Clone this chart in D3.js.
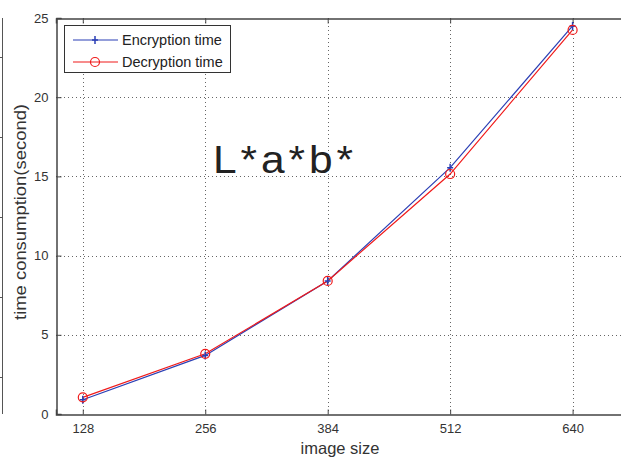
<!DOCTYPE html>
<html>
<head>
<meta charset="utf-8">
<script src="https://cdn.jsdelivr.net/npm/d3@7"></script>
<style>
  html, body { margin: 0; padding: 0; background: #fff; }
  svg { display: block; }
  text { font-family: "Liberation Sans", Arial, sans-serif; }
</style>
</head>
<body>
<svg id="chart" width="621" height="459"></svg>
<script>
const imageSizes = [128, 256, 384, 512, 640];
const encryptionTime = [0.9, 3.7, 8.4, 15.55, 24.5];
const decryptionTime = [1.05, 3.8, 8.4, 15.15, 24.25];
const xTicks = [128, 256, 384, 512, 640];
const yTicks = [0, 5, 10, 15, 20, 25];
const seriesNames = ["Encryption time", "Decryption time"];
const seriesColors = ["#2b3fb5", "#f01a1a"];
const annotation = "L*a*b*";
const xTitle = "image size";
const yTitle = "time consumption(second)";

(function () {
const svg = d3.select("#chart");
const pL = 56, pR = 630, pT = 18, pB = 414;

const x = d3.scaleLinear().domain([100, 700]).range([pL, pR]);
const y = d3.scaleLinear().domain([0, 25]).range([pB, pT]);

// remnant of neighbouring panel at left edge
const remnant = svg.append("g");
remnant.append("line").attr("x1", 2.5).attr("x2", 2.5).attr("y1", pT).attr("y2", pB)
  .attr("stroke", "#555").attr("stroke-width", 1);
[57, 137, 217, 297, 377].forEach(v => {
  remnant.append("line").attr("x1", 0).attr("x2", 2.5).attr("y1", v + 0.5).attr("y2", v + 0.5)
    .attr("stroke", "#555");
});

// grid
const grid = svg.append("g").attr("stroke", "#666").attr("stroke-width", 1)
  .attr("stroke-dasharray", "1,3");
xTicks.forEach(t => {
  grid.append("line").attr("x1", Math.round(x(t)) + 0.5).attr("x2", Math.round(x(t)) + 0.5)
    .attr("y1", pT).attr("y2", pB);
});
yTicks.slice(1, -1).forEach(t => {
  grid.append("line").attr("x1", pL).attr("x2", pR)
    .attr("y1", Math.round(y(t)) + 0.5).attr("y2", Math.round(y(t)) + 0.5);
});

// axes (box)
const axCol = "#444";
const xAxisB = d3.axisBottom(x).tickValues(xTicks).tickSize(-5).tickPadding(9).tickFormat(d3.format("d"));
const gxb = svg.append("g").attr("transform", `translate(0,${pB + 0.5})`).call(xAxisB);
const xAxisT = d3.axisTop(x).tickValues(xTicks).tickSize(-5).tickFormat("");
const gxt = svg.append("g").attr("transform", `translate(0,${pT + 0.5})`).call(xAxisT);
const yAxisL = d3.axisLeft(y).tickValues(yTicks).tickSize(-5).tickPadding(8).tickFormat(d3.format("d"));
const gyl = svg.append("g").attr("transform", `translate(${pL + 0.5},0)`).call(yAxisL);
[gxb, gxt, gyl].forEach(g => {
  g.select(".domain").attr("stroke", axCol).attr("stroke-width", 1.5);
  g.selectAll(".tick line").attr("stroke", axCol);
  g.selectAll("text").attr("fill", "#333").attr("font-size", 13)
    .attr("font-family", "\"Liberation Sans\", Arial, sans-serif");
});

// titles
svg.append("text").attr("x", 340).attr("y", 454).attr("text-anchor", "middle")
  .attr("font-size", 16.5).attr("fill", "#333").text(xTitle);
svg.append("text").attr("transform", `translate(26,${212}) rotate(-90)`).attr("text-anchor", "middle")
  .attr("font-size", 16.5).attr("fill", "#333")
  .attr("textLength", 216).attr("lengthAdjust", "spacingAndGlyphs").text(yTitle);

// series
const line = d3.line().x((d, i) => x(imageSizes[i])).y(d => y(d));
const data = [encryptionTime, decryptionTime];
data.forEach((vals, si) => {
  svg.append("path").datum(vals).attr("d", line).attr("fill", "none")
    .attr("stroke", seriesColors[si]).attr("stroke-width", 1.2);
});
// markers
encryptionTime.forEach((v, i) => {
  const cx = x(imageSizes[i]), cy = y(v);
  svg.append("path").attr("d", `M${cx - 3},${cy}L${cx + 3},${cy}M${cx},${cy - 4}L${cx},${cy + 4}`)
    .attr("stroke", seriesColors[0]).attr("stroke-width", 1.5);
});
decryptionTime.forEach((v, i) => {
  svg.append("circle").attr("cx", x(imageSizes[i])).attr("cy", y(v)).attr("r", 4.5)
    .attr("fill", "none").attr("stroke", seriesColors[1]).attr("stroke-width", 1.2);
});

// legend
const lg = svg.append("g");
lg.append("rect").attr("x", 64.5).attr("y", 25.5).attr("width", 166).attr("height", 47)
  .attr("fill", "#fff").attr("stroke", "#333").attr("stroke-width", 1);
seriesNames.forEach((name, i) => {
  const ly = 40 + i * 22;
  lg.append("line").attr("x1", 73).attr("x2", 118).attr("y1", ly).attr("y2", ly)
    .attr("stroke", seriesColors[i]).attr("stroke-width", 1.2);
  if (i === 0) {
    lg.append("path").attr("d", `M92,${ly}L98,${ly}M95,${ly - 4}L95,${ly + 4}`)
      .attr("stroke", seriesColors[0]).attr("stroke-width", 1.5);
  } else {
    lg.append("circle").attr("cx", 95).attr("cy", ly).attr("r", 4.5)
      .attr("fill", "none").attr("stroke", seriesColors[1]).attr("stroke-width", 1.2);
  }
  lg.append("text").attr("x", 122).attr("y", ly + 5).attr("font-size", 14.5)
    .attr("fill", "#222").text(name);
});

// annotation (glyphs are horizontally wide in the reference)
const ann = svg.append("text").attr("x", 0).attr("y", 0)
  .attr("font-family", "\"Open Sans\", \"Noto Sans\", sans-serif")
  .attr("font-size", 38).attr("fill", "#222").attr("letter-spacing", 3.5).text(annotation);
const natW = (ann.node().getComputedTextLength() || 125) - 3.5;
const sx = 140 / natW;
ann.attr("transform", `translate(213,173) scale(${sx},1)`);
})();
</script>
</body>
</html>
